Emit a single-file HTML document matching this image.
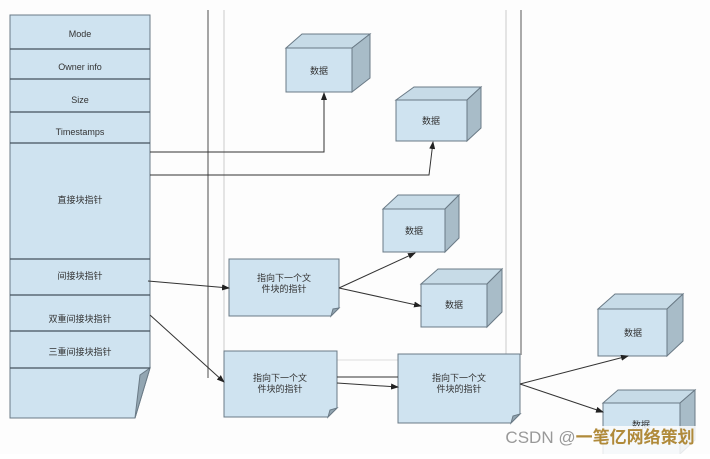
<!DOCTYPE html>
<html><head><meta charset="utf-8"><style>
body{margin:0;background:#fff;width:710px;height:454px;overflow:hidden}
svg text{font-family:"Liberation Sans","Noto Sans CJK SC",sans-serif;fill:#333;font-size:9px;text-anchor:middle}
</style></head><body>
<svg width="710" height="454" viewBox="0 0 710 454" xmlns="http://www.w3.org/2000/svg">
<defs><marker id="a" markerWidth="8" markerHeight="6" refX="7" refY="3" orient="auto"><path d="M0,0L8,3L0,6z" fill="#222"/></marker></defs>
<rect width="710" height="454" fill="#fdfdfd"/>
<line x1="208" y1="10" x2="208" y2="378" stroke="#888" stroke-width="1.5"/>
<line x1="224" y1="10" x2="224" y2="360" stroke="#ccc"/>
<line x1="506" y1="10" x2="506" y2="355" stroke="#ccc"/>
<line x1="521" y1="10" x2="521" y2="355" stroke="#aaa" stroke-width="2"/>
<line x1="224" y1="360" x2="506" y2="360" stroke="#ddd"/>
<g stroke="#6a7a86" fill="#cfe3f0">
<path d="M10,15H150V368L135,418H10Z"/>
<path d="M150,368L135,418L140,375Z" fill="#93a6b2"/>
</g>
<g stroke="#44525c" stroke-width="1.2">
<line x1="10" y1="49" x2="150" y2="49"/><line x1="10" y1="79" x2="150" y2="79"/>
<line x1="10" y1="112" x2="150" y2="112"/><line x1="10" y1="143" x2="150" y2="143"/>
<line x1="10" y1="259" x2="150" y2="259"/><line x1="10" y1="295" x2="150" y2="295"/>
<line x1="10" y1="331" x2="150" y2="331"/><line x1="10" y1="368" x2="150" y2="368"/>
</g>
<text x="80" y="37">Mode</text><text x="80" y="70">Owner info</text>
<text x="80" y="103">Size</text><text x="80" y="135">Timestamps</text>
<text x="80" y="203">直接块指针</text><text x="80" y="279">间接块指针</text>
<text x="80" y="322">双重间接块指针</text><text x="80" y="355">三重间接块指针</text>
<g stroke="#6a7a86">
<g><path d="M286,48L302,34H370L352,48Z" fill="#c7dbe7"/><path d="M352,48L370,34V78L352,92Z" fill="#a8bcc8"/><rect x="286" y="48" width="66" height="44" fill="#cfe3f0"/></g>
<g><path d="M396,100L414,87H481L467,100Z" fill="#c7dbe7"/><path d="M467,100L481,87V128L467,141Z" fill="#a8bcc8"/><rect x="396" y="100" width="71" height="41" fill="#cfe3f0"/></g>
<g><path d="M383,209L398,195H459L445,209Z" fill="#c7dbe7"/><path d="M445,209L459,195V238L445,252Z" fill="#a8bcc8"/><rect x="383" y="209" width="62" height="43" fill="#cfe3f0"/></g>
<g><path d="M421,284L438,269H502L487,284Z" fill="#c7dbe7"/><path d="M487,284L502,269V312L487,327Z" fill="#a8bcc8"/><rect x="421" y="284" width="66" height="43" fill="#cfe3f0"/></g>
<g><path d="M598,309L615,294H683L667,309Z" fill="#c7dbe7"/><path d="M667,309L683,294V341L667,356Z" fill="#a8bcc8"/><rect x="598" y="309" width="69" height="47" fill="#cfe3f0"/></g>
<g><path d="M603,403L618,390H695L680,403Z" fill="#c7dbe7"/><path d="M680,403L695,390V440L680,454Z" fill="#a8bcc8"/><rect x="603" y="403" width="77" height="60" fill="#cfe3f0"/></g>
</g>
<text x="319" y="74">数据</text><text x="431" y="124">数据</text><text x="414" y="234">数据</text>
<text x="454" y="308">数据</text><text x="633" y="336">数据</text><text x="641" y="428">数据</text>
<g stroke="#6a7a86" fill="#cfe3f0">
<path d="M229,259H339V308L331,316H229Z"/><path d="M339,308L331,316L333,309Z" fill="#93a6b2"/>
<path d="M224,351H337V408L328,417H224Z"/><path d="M337,408L328,417L330,410Z" fill="#93a6b2"/>
<path d="M398,354H520V414L511,423H398Z"/><path d="M520,414L511,423L513,416Z" fill="#93a6b2"/>
</g>
<text x="284" y="281">指向下一个文</text><text x="284" y="292">件块的指针</text>
<text x="280" y="381">指向下一个文</text><text x="280" y="392">件块的指针</text>
<text x="459" y="381">指向下一个文</text><text x="459" y="392">件块的指针</text>
<g stroke="#333" stroke-width="1" fill="none">
<path d="M150,152H324V93" marker-end="url(#a)"/>
<path d="M150,175H429L433,142" marker-end="url(#a)"/>
<path d="M148,281L229,288" marker-end="url(#a)"/>
<path d="M150,315L224,382" marker-end="url(#a)"/>
<path d="M339,288L415,253" marker-end="url(#a)"/>
<path d="M339,288L421,306" marker-end="url(#a)"/>
<path d="M337,377H398"/>
<path d="M337,383L398,387" marker-end="url(#a)"/>
<path d="M520,384L628,356" marker-end="url(#a)"/>
<path d="M520,384L603,412" marker-end="url(#a)"/>
</g>
<rect x="490" y="426" width="220" height="28" fill="#fdfdfd" opacity="0.85"/>
<text x="600" y="443" style="font-size:17px;text-anchor:middle;fill:#999">CSDN @<tspan style="fill:#b08a3a;font-weight:bold">一笔亿网络策划</tspan></text>
</svg>
</body></html>
